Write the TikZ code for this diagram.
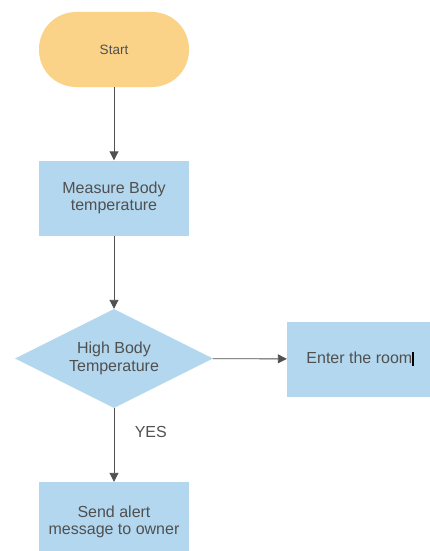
\documentclass[tikz,border=0pt]{standalone}
\usepackage{fontspec}
\setmainfont{Liberation Sans}
\usetikzlibrary{shapes.geometric,arrows.meta,positioning}

\definecolor{startorange}{HTML}{FAD388}
\definecolor{boxblue}{HTML}{B3D7EE}
\definecolor{textgray}{HTML}{505050}
\definecolor{linegray}{HTML}{505050}

\tikzset{
    startnode/.style={fill=startorange, rounded corners=37pt, minimum width=150pt,
        minimum height=75pt, inner sep=0pt, font=\fontsize{13.5}{16}\selectfont},
    processbox/.style={fill=boxblue, minimum width=150pt, minimum height=75pt,
        inner sep=0pt, align=center, font=\fontsize{16}{17.5}\selectfont},
    decisionnode/.style={diamond, fill=boxblue, minimum width=198pt, minimum height=99pt,
        inner sep=0pt, aspect=2, align=center, font=\fontsize{16}{18}\selectfont},
    flowarrow/.style={draw=linegray, line width=0.9pt, -{Triangle[length=9pt,width=9pt]}}
}

\begin{document}
\begin{tikzpicture}[x=1pt, y=-1pt, text=textgray]
    \useasboundingbox (0,0) rectangle (429,551);

    % Shapes
    \node[startnode] (start) at (114,49.5) {Start};
    \node[processbox] (measure) at (114,198) {Measure Body\\temperature};
    \node[decisionnode] (high) at (114,358.5) {High Body\\Temperature};
    \node[processbox, minimum width=146pt] (room) at (360,359) {Enter the room\textcolor{black}{\rule[-2.5pt]{1.3pt}{14pt}}};
    \node[processbox, minimum height=80pt] (alert) at (114,522) {Send alert\\message to owner};

    % Arrows
    \draw[flowarrow] (start) -- (measure);
    \draw[flowarrow] (measure) -- (high);
    \draw[flowarrow] (high) -- (room);
    \draw[flowarrow] (high) -- node[pos=0.32, anchor=west, xshift=17pt,
        font=\fontsize{16}{18}\selectfont] (yes) {YES} (alert);
\end{tikzpicture}
\end{document}
